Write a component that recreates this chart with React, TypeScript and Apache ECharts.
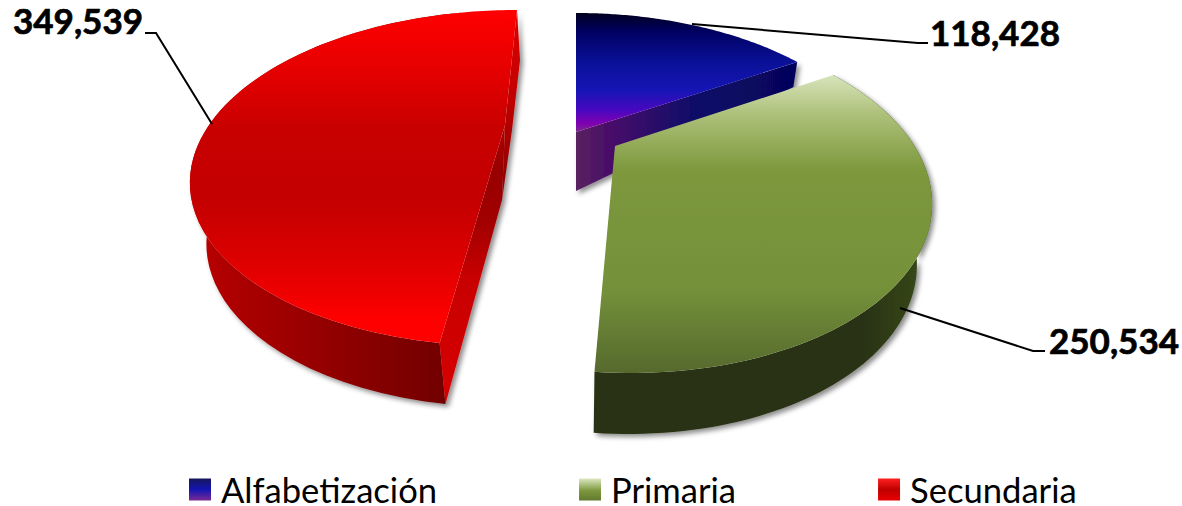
import React, { useEffect, useRef } from "react";
import * as echarts from "echarts";

const categories = ["Alfabetización", "Primaria", "Secundaria"];
const values = [118428, 250534, 349539];

const FONT = "Lato, Carlito, 'Open Sans', sans-serif";
const WIDTH = 1182;
const HEIGHT = 506;
const VANISH_X = 576;

const vGrad = (y0: number, y1: number, stops: [number, string][]) =>
  new echarts.graphic.LinearGradient(0, y0, 0, y1, stops.map(([offset, color]) => ({ offset, color })), true);
const hGrad = (x0: number, x1: number, stops: [number, string][]) =>
  new echarts.graphic.LinearGradient(x0, 0, x1, 0, stops.map(([offset, color]) => ({ offset, color })), true);
const iconGrad = (stops: [number, string][]) =>
  new echarts.graphic.LinearGradient(0, 0, 0, 1, stops.map(([offset, color]) => ({ offset, color })));

// Projection of each wedge's 3D pie section onto the page
const views = [
  {
    cx: 576, cy: 183, rx: 315, ry: 170, skew: 0, warp: 0.72, apex: [576, 132], apexLow: [576, 191], faceEdge: [] as number[][],
    z: 3, rimSide: false,
    top: vGrad(13, 132, [[0, "#00001e"], [0.15, "#000060"], [0.4, "#0a1095"], [0.65, "#1515b5"], [0.82, "#4a08c0"], [0.93, "#8000b0"], [1, "#7a2a90"]]),
    face: hGrad(576, 797, [[0, "#5a2260"], [0.2, "#42086a"], [0.55, "#0c0a68"], [1, "#05055a"]]),
    side: "#05055a",
    label: [930, 32], leader: [[692, 24], [918, 43], [928, 43]],
  },
  {
    cx: 622, cy: 199, rx: 310, ry: 174, skew: -9, warp: 0.72, apex: [615, 146], apexLow: [612, 205], faceEdge: [] as number[][],
    z: 4, rimSide: true,
    top: vGrad(75, 372, [[0, "#d8e4bc"], [0.135, "#acc078"], [0.32, "#7d983d"], [0.72, "#74913a"], [1, "#566a2e"]]),
    face: null,
    side: hGrad(596, 930, [[0, "#293312"], [0.8, "#293312"], [1, "#384b1c"]]),
    label: [1049, 340], leader: [[900, 308], [1033, 351], [1045, 351]],
  },
  {
    cx: 508, cy: 178, rx: 318, ry: 168, skew: 9, warp: 0.45, apex: [505, 125], apexLow: [502, 200], faceEdge: [[520, 60], [512, 130]],
    z: 2, rimSide: true,
    top: vGrad(10, 346, [[0, "#ff0000"], [0.15, "#ea0000"], [0.357, "#c80000"], [0.565, "#c40000"], [0.714, "#d80000"], [0.833, "#ec0000"], [0.92, "#ff0000"], [1, "#ff0000"]]),
    face: vGrad(10, 404, [[0, "#e00000"], [0.23, "#c00000"], [0.4, "#980000"], [0.53, "#a00000"], [0.68, "#c80000"], [1, "#d80000"]]),
    side: hGrad(195, 445, [[0, "#c00000"], [0.1, "#b00000"], [0.4, "#9c0000"], [1, "#720000"]]),
    label: [13, 20], leader: [[145, 33], [156, 33], [212, 124]],
  },
];

const iconFills = [
  iconGrad([[0, "#15155a"], [0.5, "#1515b5"], [1, "#7a2a90"]]),
  iconGrad([[0, "#dce8c0"], [0.55, "#7d983d"], [1, "#60792f"]]),
  iconGrad([[0, "#ff2020"], [0.5, "#c00000"], [1, "#e80000"]]),
];

const total = values.reduce((a, b) => a + b, 0);
const RIM_STEPS = 90;

const depthAt = (y: number) => Math.min(61, Math.max(0, (y - 12) * 0.5));
const lower = ([x, y]: number[]) => {
  const d = depthAt(y);
  return [x + (VANISH_X - x) * 0.0007 * d, y + d];
};

function rimPoint(v: (typeof views)[number], theta: number) {
  const phi = 2 * Math.atan2(v.warp * Math.sin(theta / 2), Math.cos(theta / 2));
  return [v.cx + v.rx * Math.sin(phi) + v.skew * Math.cos(phi), v.cy - v.ry * Math.cos(phi)];
}

function renderWedge(index: number, value: number) {
  const v = views[index];
  const before = values.slice(0, index).reduce((a, b) => a + b, 0);
  const start = (before / total) * Math.PI * 2;
  const end = ((before + value) / total) * Math.PI * 2;
  const rim: number[][] = [];
  for (let i = 0; i <= RIM_STEPS; i++) rim.push(rimPoint(v, start + ((end - start) * i) / RIM_STEPS));
  const shadow = { shadowColor: "rgba(0,0,0,0.45)", shadowBlur: 5, shadowOffsetX: 3, shadowOffsetY: 3 };
  const children: any[] = [];
  if (v.rimSide) {
    const low = rim.map(lower).reverse();
    children.push({ type: "polygon", shape: { points: [...rim, ...low] }, style: { fill: v.side, ...shadow } });
  }
  const first = rim[0];
  const last = rim[rim.length - 1];
  if (index === 0) {
    children.push({
      type: "polygon",
      shape: { points: [v.apex, last, lower(last), v.apexLow] },
      style: { fill: v.face, ...shadow },
    });
    children.push({
      type: "polygon",
      shape: { points: [first, v.apex, v.apexLow] },
      style: { fill: "#5a2260", ...shadow },
    });
  }
  if (index === 2) {
    // the wedge runs from 184.8° up to 360°, so "first" is its lower corner and "last" its top corner
    children.push({
      type: "polygon",
      shape: { points: [v.apex, v.apexLow, lower(first), first] },
      style: { fill: v.face, ...shadow },
    });
    children.push({
      type: "polygon",
      shape: { points: [last, ...v.faceEdge, v.apexLow, v.apex] },
      style: { fill: v.face, ...shadow },
    });
  }
  children.push({ type: "polygon", shape: { points: [v.apex, ...rim] }, style: { fill: v.top } });
  children.push({
    type: "polyline",
    shape: { points: v.leader },
    style: { stroke: "#000", lineWidth: 2, fill: "none" },
  });
  children.push({
    type: "text",
    style: {
      x: v.label[0],
      y: v.label[1],
      text: value.toLocaleString("en-US"),
      fill: "#000",
      stroke: "#000",
      lineWidth: 0.7,
      fontFamily: FONT,
      fontWeight: "bold",
      fontSize: 35,
      verticalAlign: "middle",
      align: "left",
    },
  });
  return { type: "group", children };
}

export default function App() {
  const ref = useRef<HTMLDivElement>(null);
  useEffect(() => {
    const chart = echarts.init(ref.current!, null, { renderer: "svg" });
    chart.setOption({
      animation: false,
      backgroundColor: "#fff",
      legend: {
        show: true,
        left: 189,
        top: 472,
        padding: 0,
        itemGap: 142,
        itemWidth: 22,
        itemHeight: 22,
        selectedMode: false,
        icon: "rect",
        textStyle: { fontFamily: FONT, fontSize: 34.6, color: "#000", padding: [0, 0, 0, 5] },
        data: categories.map((name, i) => ({ name, itemStyle: { color: iconFills[i] } })),
      },
      series: categories.map((name, i) => ({
        type: "custom",
        name,
        coordinateSystem: "none",
        silent: true,
        z: views[i].z,
        data: [values[i]],
        renderItem: (_p: any, api: any) => renderWedge(i, api.value(0)),
      })),
    });
    return () => chart.dispose();
  }, []);
  return <div ref={ref} style={{ position: "absolute", left: 0, top: 0, width: WIDTH, height: HEIGHT }} />;
}
